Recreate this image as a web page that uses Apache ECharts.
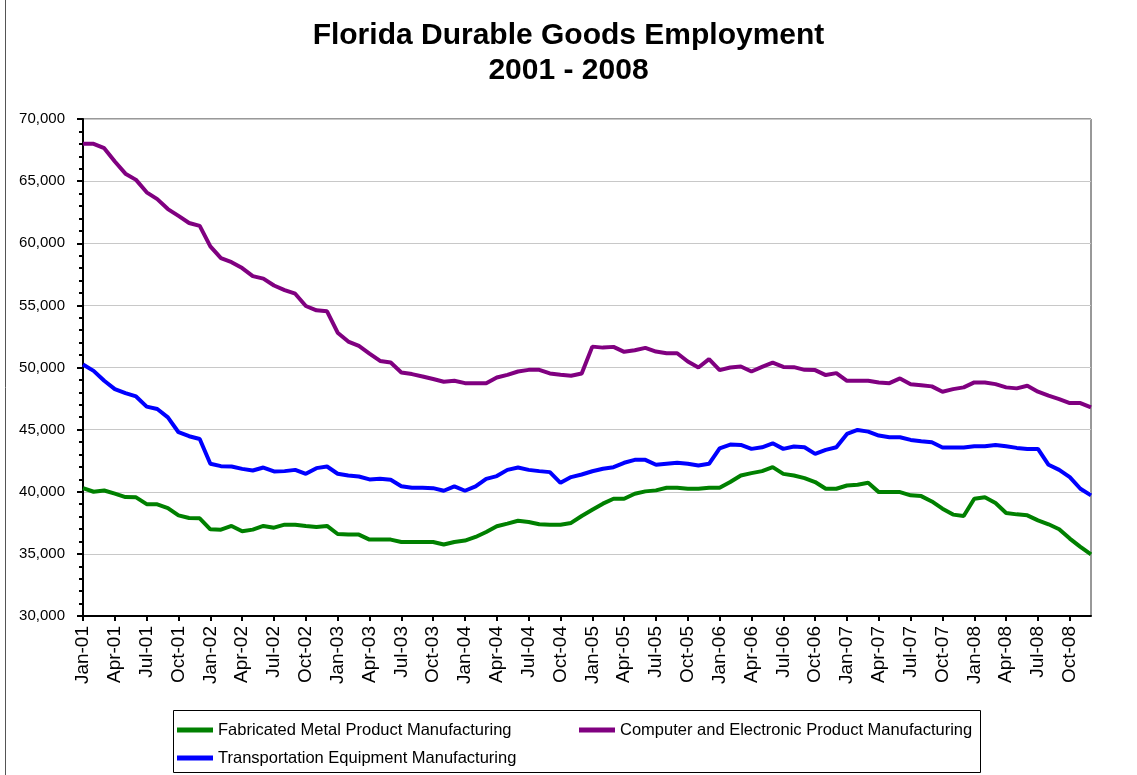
<!DOCTYPE html>
<html>
<head>
<meta charset="utf-8">
<script src="https://cdn.jsdelivr.net/npm/echarts@6/dist/echarts.min.js"></script>
<style>
    body{ margin:0; background:#fff; }
    #chart{ width:1137px; height:775px; }
</style>
</head>
<body>
<div id="chart"></div>
<script>
// categories: Jan-01 .. Dec-08
var monthNames = ['Jan','Feb','Mar','Apr','May','Jun','Jul','Aug','Sep','Oct','Nov','Dec'];
var years = ['01','02','03','04','05','06','07','08'];
var months = [];
years.forEach(function(y){
    monthNames.forEach(function(m){ months.push(m + '-' + y); });
});

var fabricated = [
    40300,40000,40100,39850,39570,39550,39000,38990,38690,38100,37890,37860,
    36980,36950,37250,36820,36950,37250,37110,37350,37350,37250,37170,37250,
    36600,36550,36550,36150,36150,36150,35960,35960,35960,35960,35750,35960,
    36070,36360,36760,37220,37430,37670,37570,37380,37350,37350,37490,38050,
    38550,39040,39440,39440,39840,40030,40110,40320,40320,40240,40240,40320,
    40320,40780,41310,41500,41660,41980,41440,41310,41100,40780,40240,40240,
    40500,40560,40720,39970,39970,39970,39710,39650,39220,38640,38160,38050,
    39440,39550,39090,38290,38180,38100,37700,37380,36980,36230,35560,34950
];
var computer = [
    68000,68000,67650,66580,65600,65100,64100,63550,62750,62200,61630,61400,
    59750,58800,58480,58000,57350,57150,56600,56230,55940,54950,54600,54520,
    52800,52090,51740,51120,50530,50400,49600,49470,49280,49070,48850,48930,
    48740,48740,48740,49200,49410,49680,49810,49810,49520,49410,49330,49520,
    51680,51600,51660,51260,51390,51580,51280,51150,51150,50480,50000,50670,
    49790,50000,50080,49680,50050,50400,50050,50030,49810,49790,49390,49550,
    48930,48930,48930,48800,48740,49120,48660,48580,48480,48050,48260,48400,
    48800,48800,48660,48400,48320,48530,48050,47730,47460,47140,47140,46790
];
var transport = [
    50240,49730,48930,48260,47940,47670,46850,46660,45990,44790,44470,44250,
    42250,42060,42030,41840,41710,41950,41630,41660,41760,41440,41900,42030,
    41450,41310,41230,40990,41040,40960,40450,40320,40320,40290,40080,40430,
    40080,40430,41040,41260,41760,41950,41760,41660,41580,40720,41180,41390,
    41650,41850,41980,42330,42570,42570,42170,42250,42330,42250,42110,42250,
    43500,43800,43770,43450,43580,43900,43450,43640,43580,43050,43370,43580,
    44650,44970,44840,44520,44390,44390,44170,44070,43980,43560,43560,43560,
    43660,43660,43770,43660,43530,43450,43450,42170,41760,41180,40240,39710
];

var seriesNames = [
    'Fabricated Metal Product Manufacturing',
    'Computer and Electronic Product Manufacturing',
    'Transportation Equipment Manufacturing'
];
var seriesColors = ['#008000', '#800080', '#0000ff'];

var fontFam = '"Liberation Sans", Arial, sans-serif';

var chart = echarts.init(document.getElementById('chart'));

function lineSeries(i, data){
    return {
        name: seriesNames[i],
        type: 'line',
        data: data,
        showSymbol: false,
        symbol: 'none',
        lineStyle: { color: seriesColors[i], width: 4 },
        itemStyle: { color: seriesColors[i] },
        animation: false
    };
}

// one legend per entry so each sits where Excel put it
function legendAt(i, left, top){
    return {
        data: [seriesNames[i]],
        left: left, top: top,
        padding: 0,
        itemWidth: 36, itemHeight: 5,
        icon: 'rect',
        textStyle: { color: '#000', fontSize: 16.5, fontFamily: fontFam, lineHeight: 20 }
    };
}

var option = {
    backgroundColor: '#fff',
    animation: false,
    title: {
        text: 'Florida Durable Goods Employment\n2001 - 2008',
        left: 'center',
        top: 13,
        textStyle: { fontSize: 30, fontWeight: 'bold', color: '#000', fontFamily: fontFam, lineHeight: 35 }
    },
    graphic: [
        { type: 'line', shape: { x1: 5.5, y1: 0, x2: 5.5, y2: 775 }, style: { stroke: '#555', lineWidth: 1 } },
        { type: 'rect', shape: { x: 173.5, y: 710.5, width: 807, height: 62 }, style: { fill: 'none', stroke: '#000', lineWidth: 1 } }
    ],
    legend: [
        legendAt(0, 177, 720),
        legendAt(1, 579, 720),
        legendAt(2, 177, 748)
    ],
    grid: {
        left: 83, top: 119, width: 1008, height: 497,
        show: true, borderColor: '#333', borderWidth: 1
    },
    xAxis: {
        type: 'category',
        data: months,
        boundaryGap: false,
        axisLine: { lineStyle: { color: '#000', width: 2 } },
        axisTick: { show: true, interval: 2, length: 5, lineStyle: { color: '#000', width: 2 } },
        axisLabel: { interval: 2, rotate: 90, color: '#000', fontSize: 19, fontFamily: fontFam, margin: 10 },
        splitLine: { show: false }
    },
    yAxis: {
        type: 'value',
        min: 30000, max: 70000, interval: 5000,
        axisLine: { show: true, lineStyle: { color: '#000', width: 2 } },
        axisTick: { show: true, length: 6, lineStyle: { color: '#000', width: 2 } },
        minorTick: { show: true, splitNumber: 5, length: 4, lineStyle: { color: '#000', width: 2 } },
        splitLine: { lineStyle: { color: '#c8c8c8', width: 1 } },
        axisLabel: {
            color: '#000', fontSize: 15, fontFamily: fontFam, margin: 18,
            formatter: function(v){ return v.toLocaleString('en-US'); }
        }
    },
    series: [
        lineSeries(0, fabricated),
        lineSeries(1, computer),
        lineSeries(2, transport)
    ]
};
chart.setOption(option);
</script>
</body>
</html>
